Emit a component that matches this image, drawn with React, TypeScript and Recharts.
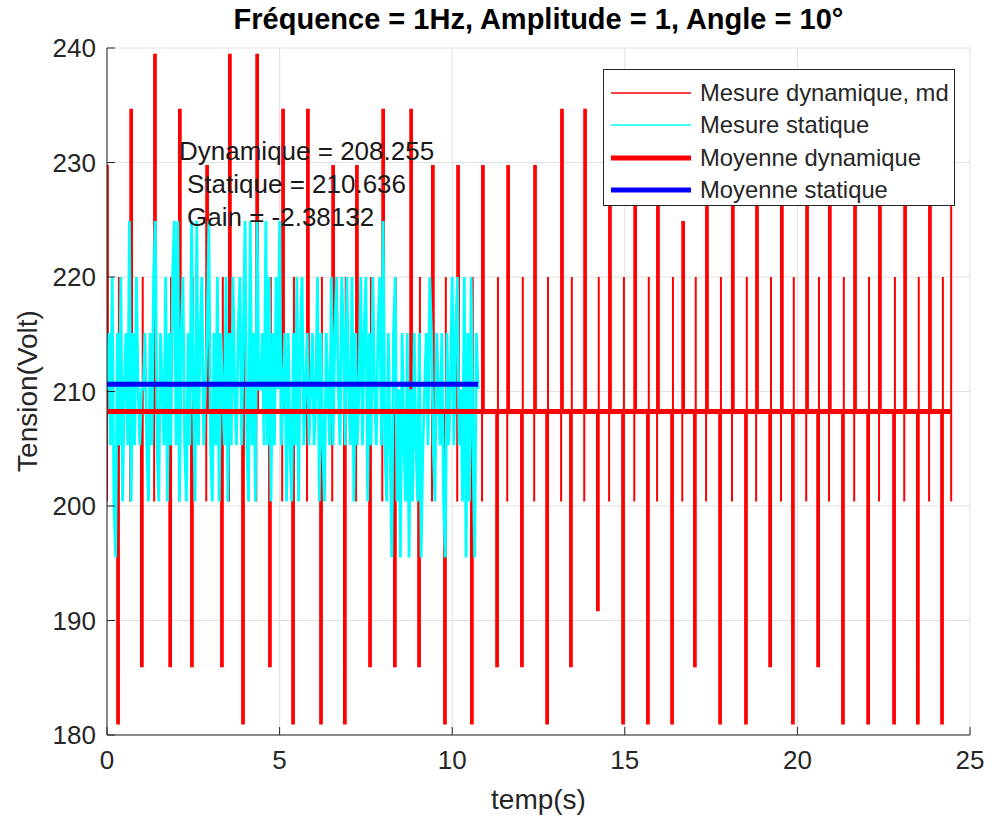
import { LineChart, Line, XAxis, YAxis, CartesianGrid, Legend } from "recharts";

// Mesure dynamique : creux et crêtes successifs (temps en s, tension en V)
const tempsExtremes = [
  0.0, 0.32, 0.7, 1.01, 1.39, 1.83, 2.11, 2.46, 2.9, 3.33, 3.56, 3.94, 4.35, 4.72,
  5.1, 5.39, 5.82, 6.2, 6.55, 6.89, 7.24, 7.62, 8.0, 8.34, 8.81, 9.04, 9.44, 9.79,
  10.17, 10.57, 10.89, 11.3, 11.62, 12.02, 12.4, 12.75, 13.18, 13.44, 13.85, 14.22,
  14.57, 14.95, 15.3, 15.67, 15.96, 16.37, 16.69, 17.03, 17.38, 17.76, 18.13, 18.51,
  18.83, 19.21, 19.55, 19.87, 20.28, 20.6, 20.94, 21.32, 21.67, 22.05, 22.39, 22.8,
  23.12, 23.49, 23.84, 24.19, 24.48,
];
const tensionsExtremes = [
  229.7, 181.0, 234.6, 186.0, 239.4, 186.0, 234.6, 186.0, 229.7, 186.0, 239.4, 181.0,
  239.4, 186.0, 234.6, 181.0, 234.6, 181.0, 229.7, 181.0, 229.7, 186.0, 234.6, 186.0,
  234.6, 186.0, 229.7, 181.0, 229.7, 181.0, 229.7, 186.0, 229.7, 186.0, 229.7, 181.0,
  234.6, 186.0, 234.6, 190.9, 229.7, 181.0, 229.7, 181.0, 229.7, 181.0, 224.8, 186.0,
  229.7, 181.0, 229.7, 181.0, 229.7, 186.0, 229.7, 181.0, 229.7, 186.0, 229.7, 181.0,
  229.7, 181.0, 229.7, 181.0, 229.7, 181.0, 229.7, 181.0, 229.7,
];
// hauteur jusqu'où montent les barres des creux / descendent les barres des crêtes
const genouCreux = 220.0;
const genouCrete = 200.4;
const demiLargeur = 0.025;

// Mesure statique : un échantillon toutes les 0.05 s
const pasStatique = 0.05;
const mesureStatique = [
  210.2, 215.1, 205.3, 220.0, 200.4, 195.5, 215.1, 205.3, 220.0, 200.4, 210.2, 215.1, 205.3, 224.9, 200.4, 215.1, 205.3, 220.0, 210.2, 205.3,
  210.2, 210.2, 215.1, 205.3, 200.4, 215.1, 205.3, 220.0, 224.9, 205.3, 200.4, 215.1, 210.2, 205.3, 220.0, 200.4, 215.1, 205.3, 220.0, 224.9,
  205.3, 224.9, 200.4, 215.1, 220.0, 205.3, 200.4, 215.1, 205.3, 224.9, 210.2, 200.4, 224.9, 205.3, 215.1, 220.0, 205.3, 210.2, 215.1, 224.9,
  205.3, 200.4, 215.1, 205.3, 220.0, 200.4, 215.1, 210.2, 205.3, 220.0, 200.4, 215.1, 205.3, 220.0, 210.2, 205.3, 215.1, 220.0, 205.3, 215.1,
  224.9, 205.3, 200.4, 224.9, 205.3, 215.1, 200.4, 224.9, 210.2, 210.2, 215.1, 205.3, 224.9, 205.3, 220.0, 200.4, 215.1, 205.3, 220.0, 210.2,
  224.9, 205.3, 210.2, 215.1, 200.4, 215.1, 205.3, 200.4, 215.1, 205.3, 220.0, 200.4, 215.1, 220.0, 205.3, 210.2, 215.1, 205.3, 210.2, 215.1,
  205.3, 210.2, 220.0, 200.4, 215.1, 205.3, 200.4, 215.1, 210.2, 205.3, 220.0, 205.3, 215.1, 220.0, 210.2, 205.3, 220.0, 215.1, 205.3, 220.0,
  210.2, 205.3, 220.0, 200.4, 215.1, 205.3, 210.2, 220.0, 205.3, 215.1, 220.0, 200.4, 215.1, 205.3, 220.0, 210.2, 205.3, 215.1, 220.0, 205.3,
  224.9, 205.3, 200.4, 215.1, 205.3, 195.5, 215.1, 220.0, 200.4, 210.2, 195.5, 215.1, 205.3, 200.4, 215.1, 195.5, 210.2, 200.4, 215.1, 205.3,
  200.4, 215.1, 195.5, 205.3, 210.2, 215.1, 205.3, 220.0, 215.1, 205.3, 200.4, 215.1, 210.2, 205.3, 215.1, 200.4, 195.5, 215.1, 205.3, 210.2,
  220.0, 205.3, 215.1, 220.0, 205.3, 210.2, 200.4, 220.0, 195.5, 215.1, 200.4, 220.0, 205.3, 195.5, 215.1, 210.2,
];

const moyenneDynamique = 208.255;
const moyenneStatique = 210.636;
const gain = -2.38132;
const finDynamique = 24.48;
const finStatique = 10.75;

const ticksX = [0, 5, 10, 15, 20, 25];
const ticksY = [180, 190, 200, 210, 220, 230, 240];

// chaque creux / crête = barre verticale (échantillons très rapprochés) ;
// le passage d'une barre à l'autre se fait au niveau de la moyenne
const dataDynamique = tempsExtremes.flatMap((t, i) => {
  const v = tensionsExtremes[i];
  const m = moyenneDynamique;
  const a = Math.max(0, t - demiLargeur);
  const b = t + demiLargeur;
  if (i === tempsExtremes.length - 1)
    return [{ t: a, v: m }, { t: a, v: genouCrete }, { t: a, v }];
  if (v < m)
    return [
      { t: a, v: m },
      { t: a, v },
      { t: b, v },
      { t: b, v: genouCreux },
      { t: b, v: m },
    ];
  return [
    { t: a, v: m },
    { t: a, v: genouCrete },
    { t: a, v },
    { t: b, v },
    { t: b, v: m },
  ];
});
const dataStatique = mesureStatique.map((v, i) => ({ t: i * pasStatique, v }));
const dataMoyDyn = [
  { t: 0, v: moyenneDynamique },
  { t: finDynamique, v: moyenneDynamique },
];
const dataMoyStat = [
  { t: 0, v: moyenneStatique },
  { t: finStatique, v: moyenneStatique },
];

const legendItems = [
  { label: "Mesure dynamique, md", color: "#ff0000", width: 1.3 },
  { label: "Mesure statique", color: "#00ffff", width: 1.3 },
  { label: "Moyenne dynamique", color: "#ff0000", width: 5 },
  { label: "Moyenne statique", color: "#0000ff", width: 5 },
];

const AXIS = "#262626";
const FONT = '"Liberation Sans", Arial, Helvetica, sans-serif';

function LegendBox() {
  return (
    <div
      style={{
        width: 352,
        height: 137,
        boxSizing: "border-box",
        border: `1px solid ${AXIS}`,
        background: "#fff",
        position: "relative",
        fontFamily: FONT,
      }}
    >
      {legendItems.map((it, i) => (
        <div
          key={it.label}
          style={{
            position: "absolute",
            left: 0,
            top: 7 + i * 32.3,
            height: 32,
            display: "flex",
            alignItems: "center",
          }}
        >
          <svg width={88} height={12} style={{ marginLeft: 7 }}>
            <line x1={0} x2={80} y1={6} y2={6} stroke={it.color} strokeWidth={it.width} />
          </svg>
          <span style={{ fontSize: 23.8, color: AXIS, whiteSpace: "nowrap", marginLeft: 1 }}>
            {it.label}
          </span>
        </div>
      ))}
    </div>
  );
}

export default function App() {
  const blank = () => "";
  return (
    <div
      style={{
        position: "fixed",
        left: 0,
        top: 0,
        width: 995,
        height: 819,
        background: "#fff",
        fontFamily: FONT,
        overflow: "hidden",
      }}
    >
      <LineChart
        width={995}
        height={819}
        margin={{ top: 48, right: 25, bottom: 0, left: 0 }}
      >
        <CartesianGrid stroke="#e0e0e0" strokeWidth={1} />
        <XAxis
          type="number"
          dataKey="t"
          domain={[0, 25]}
          ticks={ticksX}
          height={84}
          stroke={AXIS}
          tickSize={-8}
          tickMargin={24}
          tick={{ fill: AXIS, fontSize: 26 }}
          allowDataOverflow
        />
        <XAxis
          xAxisId="haut"
          orientation="top"
          type="number"
          dataKey="t"
          domain={[0, 25]}
          ticks={ticksX}
          height={0}
          stroke={AXIS}
          tickSize={-8}
          tickFormatter={blank}
        />
        <YAxis
          type="number"
          domain={[180, 240]}
          ticks={ticksY}
          width={107}
          stroke={AXIS}
          tickSize={-8}
          tickMargin={19}
          tick={{ fill: AXIS, fontSize: 26 }}
          allowDataOverflow
        />
        <YAxis
          yAxisId="droite"
          orientation="right"
          type="number"
          domain={[180, 240]}
          ticks={ticksY}
          width={0}
          stroke={AXIS}
          tickSize={-8}
          tickFormatter={blank}
        />
        <Line
          data={dataDynamique}
          dataKey="v"
          name="Mesure dynamique, md"
          stroke="#ff0000"
          strokeWidth={2}
          dot={false}
          activeDot={false}
          isAnimationActive={false}
        />
        <Line
          data={dataStatique}
          dataKey="v"
          name="Mesure statique"
          stroke="#00ffff"
          strokeWidth={2.8}
          dot={false}
          activeDot={false}
          isAnimationActive={false}
        />
        <Line
          data={dataMoyDyn}
          dataKey="v"
          name="Moyenne dynamique"
          stroke="#ff0000"
          strokeWidth={5}
          dot={false}
          activeDot={false}
          isAnimationActive={false}
        />
        <Line
          data={dataMoyStat}
          dataKey="v"
          name="Moyenne statique"
          stroke="#0000ff"
          strokeWidth={5}
          dot={false}
          activeDot={false}
          isAnimationActive={false}
        />
        <Legend
          layout="horizontal"
          verticalAlign="middle"
          align="center"
          wrapperStyle={{ left: 603, top: 69, width: 352, height: 137 }}
          content={() => <LegendBox />}
        />
      </LineChart>

      <div
        style={{
          position: "absolute",
          left: 107,
          width: 863,
          top: 5,
          textAlign: "center",
          fontSize: 29,
          lineHeight: "29px",
          fontWeight: "bold",
          color: "#000",
          whiteSpace: "nowrap",
        }}
      >
        Fréquence = 1Hz, Amplitude = 1, Angle = 10°
      </div>

      <div style={{ position: "absolute", left: 179, top: 138, fontSize: 26, lineHeight: "26px", color: "#1a1a1a", whiteSpace: "pre" }}>
        {`Dynamique = ${moyenneDynamique}`}
      </div>
      <div style={{ position: "absolute", left: 187, top: 171, fontSize: 26, lineHeight: "26px", color: "#1a1a1a", whiteSpace: "pre" }}>
        {`Statique = ${moyenneStatique}`}
      </div>
      <div style={{ position: "absolute", left: 187, top: 204, fontSize: 26, lineHeight: "26px", color: "#1a1a1a", whiteSpace: "pre" }}>
        {`Gain = ${gain}`}
      </div>

      <div
        style={{
          position: "absolute",
          left: 107,
          width: 863,
          top: 786,
          textAlign: "center",
          fontSize: 28,
          lineHeight: "28px",
          color: AXIS,
        }}
      >
        temp(s)
      </div>
      <div
        style={{
          position: "absolute",
          left: 28 - 120,
          top: 391 - 14,
          width: 240,
          height: 28,
          textAlign: "center",
          fontSize: 28,
          lineHeight: "28px",
          color: AXIS,
          transform: "rotate(-90deg)",
          transformOrigin: "center center",
        }}
      >
        Tension(Volt)
      </div>
    </div>
  );
}
